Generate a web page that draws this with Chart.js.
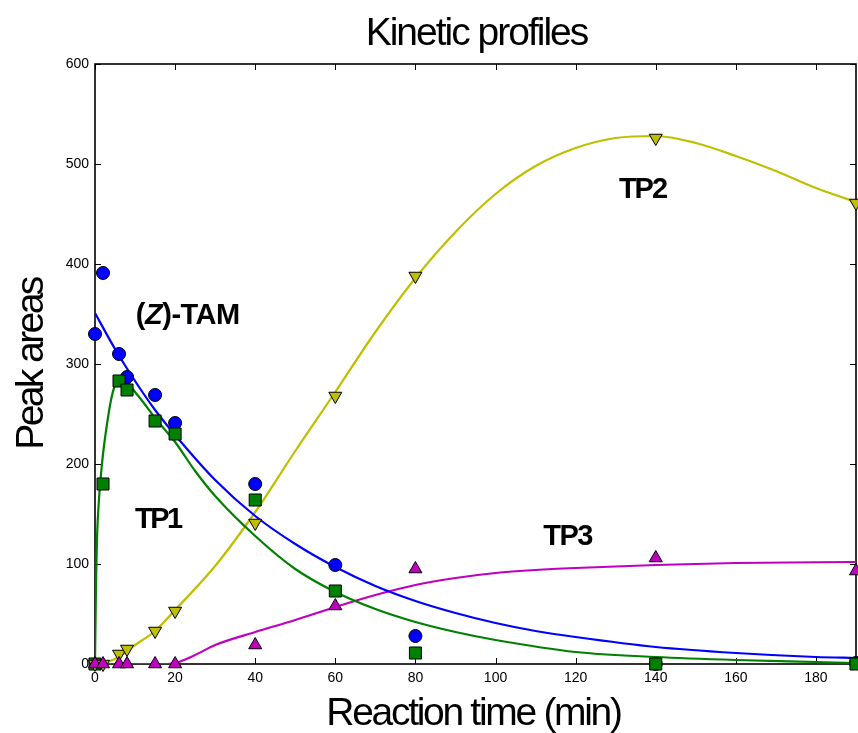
<!DOCTYPE html>
<html>
<head>
<meta charset="utf-8">
<script src="https://cdn.jsdelivr.net/npm/chart.js@4/dist/chart.umd.min.js"></script>
<style>
  html, body { margin: 0; padding: 0; background: #fff; }
</style>
</head>
<body>
<canvas id="kinetics" width="858" height="733"></canvas>
<script>
// measured points (reaction time in min / peak area)
const times = [0, 2, 6, 8, 15, 20, 40, 60, 80, 140, 190];
const tamPoints = [330, 391, 310, 287, 269, 241, 180, 99, 28, 0, 1];
const tp1Points = [0, 180, 283, 274, 243, 230, 164, 73, 11, 0, 0];
const tp2Points = [0, 0, 10, 15, 33, 53, 141, 268, 388, 526, 461];
const tp3Points = [0, 0, 0, 0, 0, 0, 19, 58, 95, 106, 93];

// fitted curves
const tamFitT = [0, 5, 10, 15, 20, 30, 40, 50, 60, 70, 80, 90, 100, 110, 120, 140, 160, 180, 190];
const tamFit = [351, 315, 283, 254, 229, 184, 148, 120, 97, 78, 63, 51, 41, 33, 27, 17, 11, 7, 6];

const tp1FitT = [0, 0.25, 0.5, 1, 1.5, 2, 3, 4, 5, 6, 7, 8, 10, 12, 15, 20, 25, 30, 40, 50, 60, 70, 80, 90, 100, 120, 140, 160, 180, 190];
const tp1Fit = [0, 80, 126, 165, 190, 210, 240, 264, 279, 285, 285, 282, 272, 262, 246, 222, 193, 168, 128, 95, 72, 55, 42, 32, 24, 12, 7, 4, 2, 1];

const tp2FitT = [0, 2, 5, 8, 10, 15, 20, 30, 40, 50, 60, 70, 80, 90, 100, 110, 120, 130, 140, 150, 160, 170, 180, 190];
const tp2Fit = [0, 1, 5, 13, 19, 33, 54, 98, 152, 213, 272, 332, 386, 432, 470, 498, 516, 526, 528, 521, 508, 493, 476, 462];

const tp3FitT = [0, 10, 17, 20, 25, 30, 40, 50, 60, 70, 80, 90, 100, 110, 120, 140, 160, 190];
const tp3Fit = [0, 0, 0, 1, 9, 19, 32, 44, 57, 69, 79, 86, 91, 94, 96, 99, 101, 102];

const xTicks = [0, 20, 40, 60, 80, 100, 120, 140, 160, 180];
const yTicks = [0, 100, 200, 300, 400, 500, 600];

// in-plot labels, anchored in data units (left / baseline)
const seriesLabels = [
  { parts: [['(', false], ['Z', true], [')-TAM', false]], x: 10.2, y: 340, spacing: -0.5 },
  { parts: [['TP1', false]], x: 10, y: 136, spacing: -2.5 },
  { parts: [['TP2', false]], x: 130.8, y: 466, spacing: -2 },
  { parts: [['TP3', false]], x: 111.9, y: 119, spacing: -1.5 }
];

const FONT = "'Liberation Sans', Arial, Helvetica, sans-serif";

const pts = (xs, ys) => xs.map((x, i) => ({ x: x, y: ys[i] }));

function fitLine(xs, ys, color) {
  return {
    data: pts(xs, ys),
    showLine: true,
    borderColor: color,
    borderWidth: 2.2,
    pointRadius: 0,
    cubicInterpolationMode: 'monotone',
    order: 10
  };
}

function markers(ys, color, style, radius, rotation, order) {
  return {
    data: pts(times, ys),
    showLine: false,
    pointStyle: style,
    pointRadius: radius,
    pointRotation: rotation,
    backgroundColor: color,
    borderColor: '#000',
    borderWidth: 1,
    clip: false,
    order: order
  };
}

const frame = {
  id: 'frame',
  beforeDatasetsDraw(chart) {
    const { ctx, chartArea: a, scales: { x, y } } = chart;
    ctx.save();
    ctx.strokeStyle = '#000';
    ctx.lineWidth = 1;
    ctx.beginPath();
    xTicks.forEach(v => {
      const px = Math.round(x.getPixelForValue(v)) + 0.5;
      ctx.moveTo(px, a.bottom); ctx.lineTo(px, a.bottom - 6);
      ctx.moveTo(px, a.top); ctx.lineTo(px, a.top + 6);
    });
    yTicks.forEach(v => {
      const py = Math.round(y.getPixelForValue(v)) + 0.5;
      ctx.moveTo(a.left, py); ctx.lineTo(a.left + 6, py);
      ctx.moveTo(a.right, py); ctx.lineTo(a.right - 6, py);
    });
    ctx.stroke();
    ctx.lineWidth = 1.6;
    ctx.strokeRect(a.left, a.top, a.right - a.left, a.bottom - a.top);
    ctx.restore();
  },
  afterDraw(chart) {
    const { ctx, chartArea: a, scales: { x, y } } = chart;
    const cx = (a.left + a.right) / 2;
    const cy = (a.top + a.bottom) / 2;
    ctx.save();
    ctx.fillStyle = '#000';
    ctx.textBaseline = 'alphabetic';
    ctx.textAlign = 'center';
    ctx.font = '39px ' + FONT;
    ctx.letterSpacing = '-2px';
    ctx.fillText('Kinetic profiles', cx + 1, 45);
    ctx.letterSpacing = '-2.3px';
    ctx.fillText('Reaction time (min)', cx - 2, 725);
    ctx.translate(43, cy);
    ctx.rotate(-Math.PI / 2);
    ctx.letterSpacing = '-2.6px';
    ctx.fillText('Peak areas', 0, 0);
    ctx.restore();

    ctx.save();
    ctx.fillStyle = '#000';
    ctx.textAlign = 'left';
    ctx.textBaseline = 'alphabetic';
    seriesLabels.forEach(lab => {
      let px = x.getPixelForValue(lab.x);
      const py = y.getPixelForValue(lab.y);
      ctx.letterSpacing = lab.spacing + 'px';
      lab.parts.forEach(([txt, italic]) => {
        ctx.font = (italic ? 'italic ' : '') + 'bold 29px ' + FONT;
        ctx.fillText(txt, px, py);
        px += ctx.measureText(txt).width;
      });
    });
    ctx.restore();
  }
};

new Chart(document.getElementById('kinetics'), {
  type: 'scatter',
  data: {
    datasets: [
      fitLine(tamFitT, tamFit, '#0000ff'),
      fitLine(tp1FitT, tp1Fit, '#008000'),
      fitLine(tp2FitT, tp2Fit, '#bfbf00'),
      fitLine(tp3FitT, tp3Fit, '#bf00bf'),
      markers(tamPoints, '#0000ff', 'circle', 6.5, 0, 4),
      markers(tp1Points, '#008000', 'rect', 8.5, 0, 3),
      markers(tp2Points, '#bfbf00', 'triangle', 7.5, 180, 2),
      markers(tp3Points, '#bf00bf', 'triangle', 7.5, 0, 1)
    ]
  },
  options: {
    responsive: false,
    animation: false,
    events: [],
    layout: { autoPadding: false, padding: { top: 64, right: 2, left: 0, bottom: 0 } },
    plugins: {
      legend: { display: false },
      tooltip: { enabled: false },
      title: { display: false }
    },
    scales: {
      x: {
        type: 'linear',
        min: 0,
        max: 190,
        afterBuildTicks: s => { s.ticks = xTicks.map(v => ({ value: v })); },
        afterFit: s => { s.height = 69; s.paddingLeft = 0; s.paddingRight = 0; },
        grid: { display: false, drawTicks: false },
        border: { display: false },
        ticks: { color: '#000', padding: 6, maxRotation: 0, font: { family: FONT, size: 14 } }
      },
      y: {
        type: 'linear',
        min: 0,
        max: 600,
        afterBuildTicks: s => { s.ticks = yTicks.map(v => ({ value: v })); },
        afterFit: s => { s.width = 95; s.paddingTop = 0; s.paddingBottom = 0; },
        grid: { display: false, drawTicks: false },
        border: { display: false },
        ticks: { color: '#000', padding: 6, font: { family: FONT, size: 14 } }
      }
    }
  },
  plugins: [frame]
});
</script>
</body>
</html>
